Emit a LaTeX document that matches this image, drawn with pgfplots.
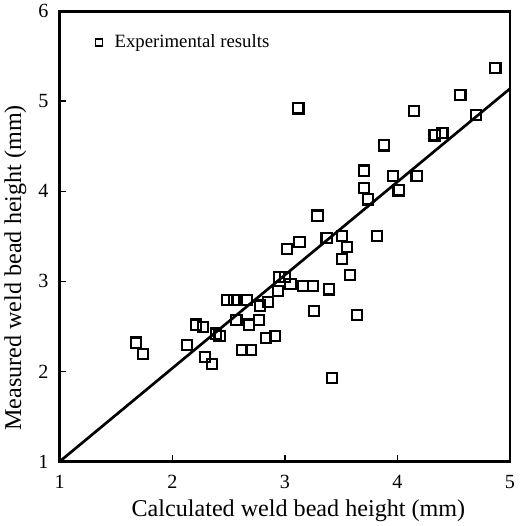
\documentclass[border=0pt]{standalone}
\usepackage{pgfplots}
\pgfplotsset{compat=1.18}
\usepackage{fontspec}
\setmainfont{Liberation Serif}

\begin{document}
\begin{tikzpicture}
\begin{axis}[
    scale only axis,
    width=336pt, height=336pt,
    xmin=1, xmax=5, ymin=1, ymax=6,
    xtick={1,2,3,4,5}, ytick={1,2,3,4,5,6},
    tick align=inside,
    xtick pos=bottom, ytick pos=left,
    major tick length=5pt,
    axis line style={line width=2pt},
    every tick/.style={line width=1.2pt, black},
    /pgf/number format/assume math mode=true,
    tick label style={font=\fontsize{15}{17}\selectfont},
    xticklabel style={yshift=-7pt},
    yticklabel style={xshift=-5pt},
    xlabel={Calculated weld bead height (mm)},
    ylabel={Measured weld bead height (mm)},
    label style={font=\fontsize{18}{20}\selectfont},
    xlabel style={at={(ticklabel cs:0.53)}, anchor=north, yshift=-1pt},
    ylabel style={at={(ticklabel cs:0.43)}, anchor=south, yshift=2pt},
    legend style={draw=none, fill=none, at={(0.07,0.96)}, anchor=north west,
                  font=\fontsize{14}{16}\selectfont},
    legend image post style={mark size=2.6pt, line width=1.3pt},
    legend cell align=left,
]
\addplot[only marks, mark=square, mark size=3.8pt, line width=1.6pt, black]
coordinates {
(1.68,2.32) (1.74,2.19) (2.13,2.29) (2.21,2.52) (2.27,2.49) (2.29,2.16)
(2.35,2.08) (2.39,2.42) (2.42,2.39) (2.49,2.79) (2.55,2.79) (2.57,2.57)
(2.62,2.24) (2.70,2.24) (2.68,2.52) (2.66,2.79) (2.77,2.57) (2.78,2.73)
(2.85,2.77) (2.83,2.37) (2.91,2.39) (2.94,2.89) (2.95,3.05) (3.00,3.05)
(3.02,3.36) (3.05,2.97) (3.13,3.44) (3.16,2.95) (3.25,2.95) (3.39,2.91)
(3.26,2.67) (3.29,3.73) (3.37,3.48) (3.42,1.93) (3.51,3.25) (3.51,3.50)
(3.55,3.38) (3.58,3.07) (3.64,2.63) (3.12,4.92) (3.70,4.23) (3.70,4.04)
(3.74,3.91) (3.82,3.50) (3.88,4.51) (3.96,4.17) (4.01,4.01) (4.15,4.89)
(4.17,4.17) (4.33,4.62) (4.40,4.65) (4.56,5.07) (4.70,4.85) (4.87,5.37)
};
\addlegendentry{\hspace{7pt}Experimental results}
\addplot[black, line width=2pt, forget plot] coordinates {(1,1) (5,5.14)};
\end{axis}
\end{tikzpicture}
\end{document}
